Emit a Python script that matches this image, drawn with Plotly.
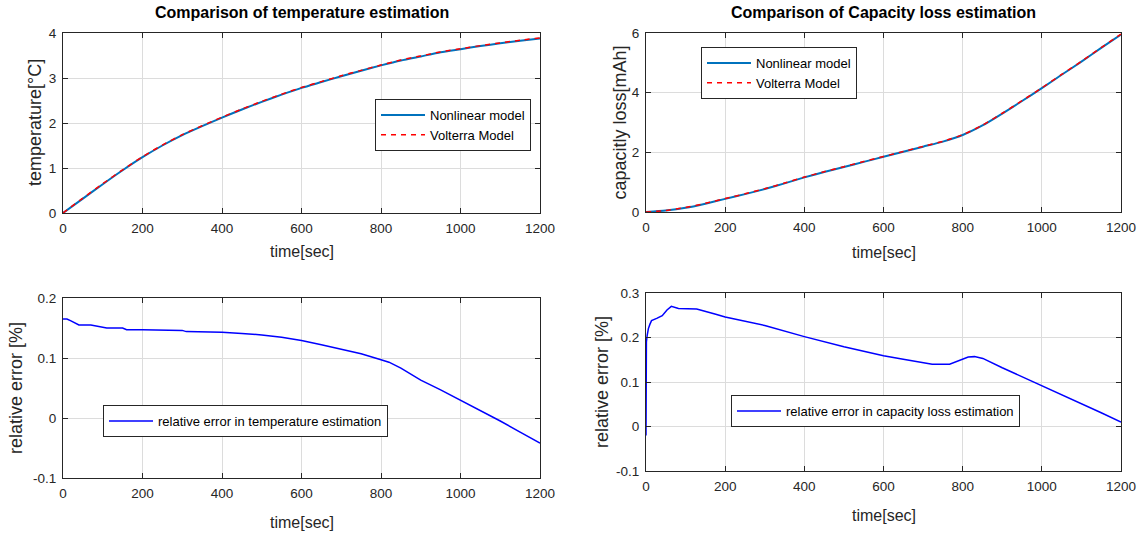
import plotly.graph_objects as go

# ---------------- data ----------------
t_top = [0, 50, 100, 150, 200, 250, 300, 350, 400, 450, 500, 550, 600, 650, 700,
         750, 800, 850, 900, 950, 1000, 1050, 1100, 1150, 1200]
temp_nonlinear = [0, 0.32, 0.64, 0.95, 1.24, 1.50, 1.73, 1.93, 2.12, 2.30, 2.47, 2.63,
                  2.78, 2.91, 3.04, 3.16, 3.28, 3.39, 3.48, 3.57, 3.64, 3.71, 3.77, 3.83, 3.88]
temp_volterra = [0, 0.33, 0.65, 0.96, 1.25, 1.51, 1.74, 1.94, 2.13, 2.31, 2.48, 2.64,
                 2.79, 2.92, 3.05, 3.17, 3.29, 3.40, 3.49, 3.58, 3.65, 3.72, 3.78, 3.84, 3.89]
cap_nonlinear = [0, 0.05, 0.14, 0.28, 0.44, 0.60, 0.77, 0.96, 1.16, 1.34, 1.51, 1.68,
                 1.85, 2.02, 2.19, 2.36, 2.58, 2.90, 3.30, 3.72, 4.15, 4.60, 5.04, 5.50, 5.95]
cap_volterra = [0, 0.05, 0.15, 0.29, 0.45, 0.61, 0.78, 0.97, 1.17, 1.35, 1.52, 1.69,
                1.86, 2.03, 2.20, 2.37, 2.59, 2.91, 3.31, 3.73, 4.16, 4.61, 5.05, 5.51, 5.96]

t_err_temp = [0, 10, 20, 30, 40, 70, 100, 110, 150, 160, 200, 250, 300, 310, 350, 400,
              450, 500, 550, 600, 650, 700, 750, 800, 820, 850, 900, 950, 1000,
              1050, 1100, 1150, 1200]
err_temp = [0.165, 0.165, 0.162, 0.158, 0.155, 0.155, 0.152, 0.150, 0.150, 0.147, 0.147,
            0.147, 0.146, 0.144, 0.144, 0.143, 0.141, 0.1385, 0.1346, 0.129, 0.122, 0.114,
            0.107, 0.097, 0.093, 0.083, 0.063, 0.047, 0.030, 0.013, -0.005, -0.0235, -0.042]

t_err_cap = [0, 1, 3, 6, 10, 14, 27, 41, 53, 64, 82, 128, 174, 200, 300, 400, 500, 600,
             650, 700, 723, 767, 800, 814, 830, 851, 900, 950, 1000, 1050, 1100, 1150, 1200]
err_cap = [-0.02, 0.19, 0.205, 0.22, 0.23, 0.238, 0.243, 0.249, 0.262, 0.270, 0.265,
           0.264, 0.253, 0.246, 0.227, 0.202, 0.179, 0.159, 0.151, 0.144, 0.140, 0.140,
           0.151, 0.156, 0.157, 0.153, 0.132, 0.112, 0.091, 0.072, 0.052, 0.031, 0.010]

x_ticks = [0, 200, 400, 600, 800, 1000, 1200]
x_ticktext = ["0", "200", "400", "600", "800", "1000", "1200"]
y1_ticks = [0, 1, 2, 3, 4]
y1_ticktext = ["0", "1", "2", "3", "4"]
y2_ticks = [0, 2, 4, 6]
y2_ticktext = ["0", "2", "4", "6"]
y3_ticks = [-0.1, 0, 0.1, 0.2]
y3_ticktext = ["-0.1", "0", "0.1", "0.2"]
y4_ticks = [-0.1, 0, 0.1, 0.2, 0.3]
y4_ticktext = ["-0.1", "0", "0.1", "0.2", "0.3"]

titles = ["Comparison of temperature estimation", "Comparison of Capacity loss estimation"]
y_labels = ["temperature[°C]", "capacitly loss[mAh]", "relative error [%]", "relative error [%]"]
x_label = "time[sec]"

# ---------------- figure ----------------
W, H = 1138, 536
BLUE_M = "#0072BD"
RED = "#FF0000"
BLUE = "#0000FF"
TXT = "#262626"
FONT = "Arial, 'Liberation Sans', sans-serif"

fig = go.Figure()
fig.add_trace(go.Scatter(x=t_top, y=temp_nonlinear, mode="lines", name="Nonlinear model",
                         line=dict(color=BLUE_M, width=2, shape="spline", smoothing=0.6),
                         xaxis="x", yaxis="y", legend="legend"))
fig.add_trace(go.Scatter(x=t_top, y=temp_volterra, mode="lines", name="Volterra Model",
                         line=dict(color=RED, width=1.5, dash="5px,5px", shape="spline",
                                   smoothing=0.6),
                         xaxis="x", yaxis="y", legend="legend"))
fig.add_trace(go.Scatter(x=t_top, y=cap_nonlinear, mode="lines", name="Nonlinear model",
                         line=dict(color=BLUE_M, width=2, shape="spline", smoothing=0.6),
                         xaxis="x2", yaxis="y2", legend="legend2"))
fig.add_trace(go.Scatter(x=t_top, y=cap_volterra, mode="lines", name="Volterra Model",
                         line=dict(color=RED, width=1.5, dash="5px,5px", shape="spline",
                                   smoothing=0.6),
                         xaxis="x2", yaxis="y2", legend="legend2"))
fig.add_trace(go.Scatter(x=t_err_temp, y=err_temp, mode="lines",
                         name="relative error in temperature estimation",
                         line=dict(color=BLUE, width=1.5), xaxis="x3", yaxis="y3", legend="legend3"))
fig.add_trace(go.Scatter(x=t_err_cap, y=err_cap, mode="lines",
                         name="relative error in capacity loss estimation",
                         line=dict(color=BLUE, width=1.5), xaxis="x4", yaxis="y4", legend="legend4"))


def px_x(v):
    return v / W


def px_y(v):
    return 1 - v / H


boxes = {  # left, right, top, bottom in page pixels
    1: (63, 540, 33, 213),
    2: (646, 1121, 33, 212),
    3: (63, 540, 298, 478),
    4: (646, 1121, 293, 471),
}
yranges = {1: [0, 4], 2: [0, 6], 3: [-0.1, 0.2], 4: [-0.1, 0.3]}
yticks = {1: (y1_ticks, y1_ticktext), 2: (y2_ticks, y2_ticktext),
          3: (y3_ticks, y3_ticktext), 4: (y4_ticks, y4_ticktext)}

axis_common = dict(showline=True, linecolor=TXT, linewidth=1, mirror="ticks", ticks="inside",
                   ticklen=5, tickcolor=TXT, showgrid=True, gridcolor="#DCDCDC", gridwidth=1,
                   zeroline=False, tickfont=dict(family=FONT, size=13.5, color=TXT))

layout = {}
for i, (l, r, tp, b) in boxes.items():
    sx = "" if i == 1 else str(i)
    layout["xaxis" + sx] = dict(domain=[px_x(l), px_x(r)], range=[0, 1200], tickmode="array",
                                tickvals=x_ticks, ticktext=x_ticktext, anchor="y" + sx,
                                ticklabelstandoff=3, **axis_common)
    layout["yaxis" + sx] = dict(domain=[px_y(b), px_y(tp)], range=yranges[i], tickmode="array",
                                tickvals=yticks[i][0], ticktext=yticks[i][1], anchor="x" + sx,
                                ticklabelstandoff=3, **axis_common)

fig.update_layout(**layout)

annotations = []
# titles
for i, txt in zip([1, 2], titles):
    l, r, tp, b = boxes[i]
    annotations.append(dict(text="<b>" + txt + "</b>", x=px_x((l + r) / 2), y=px_y(13),
                            xref="paper", yref="paper", xanchor="center", yanchor="middle",
                            showarrow=False, font=dict(family=FONT, size=16, color="black")))
# x labels
xlab_y = {1: 251, 2: 253, 3: 522, 4: 515}
for i in boxes:
    l, r, tp, b = boxes[i]
    annotations.append(dict(text=x_label, x=px_x((l + r) / 2), y=px_y(xlab_y[i]),
                            xref="paper", yref="paper", xanchor="center", yanchor="middle",
                            showarrow=False, font=dict(family=FONT, size=16, color=TXT)))
# y labels
ylab_x = {1: 35, 2: 619, 3: 16, 4: 602}
for i in boxes:
    l, r, tp, b = boxes[i]
    annotations.append(dict(text=y_labels[i - 1], x=px_x(ylab_x[i]), y=px_y((tp + b) / 2),
                            xref="paper", yref="paper", xanchor="center", yanchor="middle",
                            textangle=-90, showarrow=False,
                            font=dict(family=FONT, size=18, color=TXT)))

legend_common = dict(bgcolor="white", bordercolor=TXT, borderwidth=1, xanchor="left",
                     yanchor="top", itemwidth=44, tracegroupgap=0,
                     font=dict(family=FONT, size=13, color="black"))
fig.update_layout(
    autosize=True, margin=dict(l=0, r=0, t=0, b=0, autoexpand=False),
    paper_bgcolor="white", plot_bgcolor="white", showlegend=True,
    annotations=annotations,
    legend=dict(x=px_x(375), y=px_y(99), **legend_common),
    legend2=dict(x=px_x(701), y=px_y(47), **legend_common),
    legend3=dict(x=px_x(103), y=px_y(405), **legend_common),
    legend4=dict(x=px_x(731), y=px_y(395), **legend_common),
)

post = ("document.documentElement.style.margin='0';document.documentElement.style.padding='0';"
        "document.documentElement.style.overflow='hidden';"
        "document.body.style.margin='0';document.body.style.padding='0';"
        "document.body.style.overflow='hidden';"
        "var gd=document.getElementById('{plot_id}');"
        "gd.style.width='100vw';gd.style.height='100vh';"
        "Plotly.Plots.resize(gd);")

fig.write_html("out.html", config={"displayModeBar": False, "responsive": True},
               default_width="100vw", default_height="100vh", post_script=post)
